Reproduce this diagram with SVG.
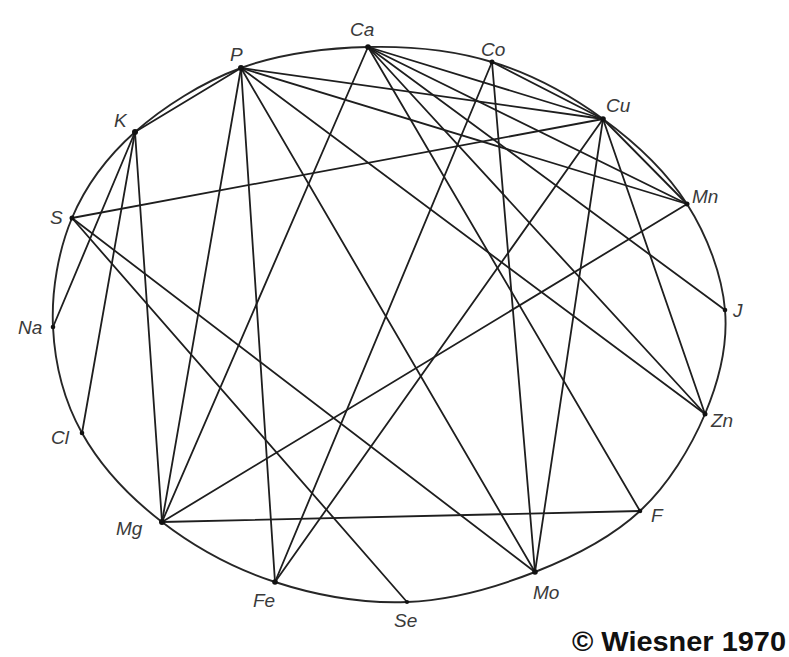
<svg xmlns="http://www.w3.org/2000/svg" width="789" height="657" viewBox="0 0 789 657">
<style>
.ln{stroke:#1e1e1e;stroke-width:1.8;fill:none;stroke-linecap:round}
.rim{stroke:#262626;stroke-width:1.9;fill:none}
.dot{fill:#111}
.lb{font-family:"Liberation Sans",Arial,sans-serif;font-style:italic;font-size:19px;fill:#3a3a3a}
.cr{font-family:"Liberation Sans",Arial,sans-serif;font-weight:bold;font-size:27px;fill:#111}
</style>
<rect width="789" height="657" fill="#fff"/>
<path class="rim" d="M368,47 C409.8,46 452.8,50 492,62 C531.2,74 570.5,95.3 603,119 C635.5,142.7 666.7,172.2 687,204 C707.3,235.8 722,275 725,310 C728,345 719.2,380.5 705,414 C690.8,447.5 668.3,484.7 640,511 C611.7,537.3 573.8,556.8 535,572 C496.2,587.2 450.3,600.3 407,602 C363.7,603.7 315.8,595.3 275,582 C234.2,568.7 194.2,546.8 162,522 C129.8,497.2 100.2,465.5 82,433 C63.8,400.5 54.7,362.8 53,327 C51.3,291.2 58.3,250.5 72,218 C85.7,185.5 106.8,157 135,132 C163.2,107 202.2,82.2 241,68 C279.8,53.8 326.2,48 368,47 Z"/>
<g id="connectors">
<line class="ln" x1="135" y1="132" x2="241" y2="68"/>
<line class="ln" x1="135" y1="132" x2="53" y2="327"/>
<line class="ln" x1="135" y1="132" x2="82" y2="433"/>
<line class="ln" x1="135" y1="132" x2="162" y2="522"/>
<line class="ln" x1="72" y1="218" x2="603" y2="119"/>
<line class="ln" x1="72" y1="218" x2="407" y2="602"/>
<line class="ln" x1="72" y1="218" x2="535" y2="572"/>
<line class="ln" x1="241" y1="68" x2="162" y2="522"/>
<line class="ln" x1="241" y1="68" x2="275" y2="582"/>
<line class="ln" x1="241" y1="68" x2="535" y2="572"/>
<line class="ln" x1="241" y1="68" x2="705" y2="414"/>
<line class="ln" x1="241" y1="68" x2="687" y2="204"/>
<line class="ln" x1="241" y1="68" x2="603" y2="119"/>
<line class="ln" x1="368" y1="47" x2="162" y2="522"/>
<line class="ln" x1="368" y1="47" x2="640" y2="511"/>
<line class="ln" x1="368" y1="47" x2="603" y2="119"/>
<line class="ln" x1="368" y1="47" x2="687" y2="204"/>
<line class="ln" x1="368" y1="47" x2="725" y2="310"/>
<line class="ln" x1="368" y1="47" x2="705" y2="414"/>
<line class="ln" x1="492" y1="62" x2="275" y2="582"/>
<line class="ln" x1="492" y1="62" x2="535" y2="572"/>
<line class="ln" x1="492" y1="62" x2="603" y2="119"/>
<line class="ln" x1="603" y1="119" x2="275" y2="582"/>
<line class="ln" x1="603" y1="119" x2="535" y2="572"/>
<line class="ln" x1="603" y1="119" x2="705" y2="414"/>
<line class="ln" x1="603" y1="119" x2="687" y2="204"/>
<line class="ln" x1="162" y1="522" x2="687" y2="204"/>
<line class="ln" x1="162" y1="522" x2="640" y2="511"/>
</g>
<g id="node-Ca"><circle class="dot" cx="368" cy="47" r="2.8"/><text class="lb" x="350" y="36">Ca</text></g>
<g id="node-Co"><circle class="dot" cx="492" cy="62" r="2.5"/><text class="lb" x="481" y="56">Co</text></g>
<g id="node-Cu"><circle class="dot" cx="603" cy="119" r="2.8"/><text class="lb" x="606" y="112">Cu</text></g>
<g id="node-Mn"><circle class="dot" cx="687" cy="204" r="2.5"/><text class="lb" x="692" y="203">Mn</text></g>
<g id="node-J"><circle class="dot" cx="725" cy="310" r="2.3"/><text class="lb" x="733" y="317">J</text></g>
<g id="node-Zn"><circle class="dot" cx="705" cy="414" r="2.5"/><text class="lb" x="711" y="427">Zn</text></g>
<g id="node-F"><circle class="dot" cx="640" cy="511" r="2.3"/><text class="lb" x="651" y="522">F</text></g>
<g id="node-Mo"><circle class="dot" cx="535" cy="572" r="2.8"/><text class="lb" x="533" y="599">Mo</text></g>
<g id="node-Se"><circle class="dot" cx="407" cy="602" r="2.1"/><text class="lb" x="394" y="627">Se</text></g>
<g id="node-Fe"><circle class="dot" cx="275" cy="582" r="2.8"/><text class="lb" x="253" y="607">Fe</text></g>
<g id="node-Mg"><circle class="dot" cx="162" cy="522" r="3"/><text class="lb" x="116" y="535">Mg</text></g>
<g id="node-Cl"><circle class="dot" cx="82" cy="433" r="2.3"/><text class="lb" x="51" y="444">Cl</text></g>
<g id="node-Na"><circle class="dot" cx="53" cy="327" r="2.3"/><text class="lb" x="18" y="334">Na</text></g>
<g id="node-S"><circle class="dot" cx="72" cy="218" r="2.5"/><text class="lb" x="50" y="224">S</text></g>
<g id="node-K"><circle class="dot" cx="135" cy="132" r="3"/><text class="lb" x="114" y="127">K</text></g>
<g id="node-P"><circle class="dot" cx="241" cy="68" r="3"/><text class="lb" x="230" y="61">P</text></g>
<text class="cr" x="572" y="651" textLength="214" lengthAdjust="spacingAndGlyphs">© Wiesner 1970</text>
</svg>
